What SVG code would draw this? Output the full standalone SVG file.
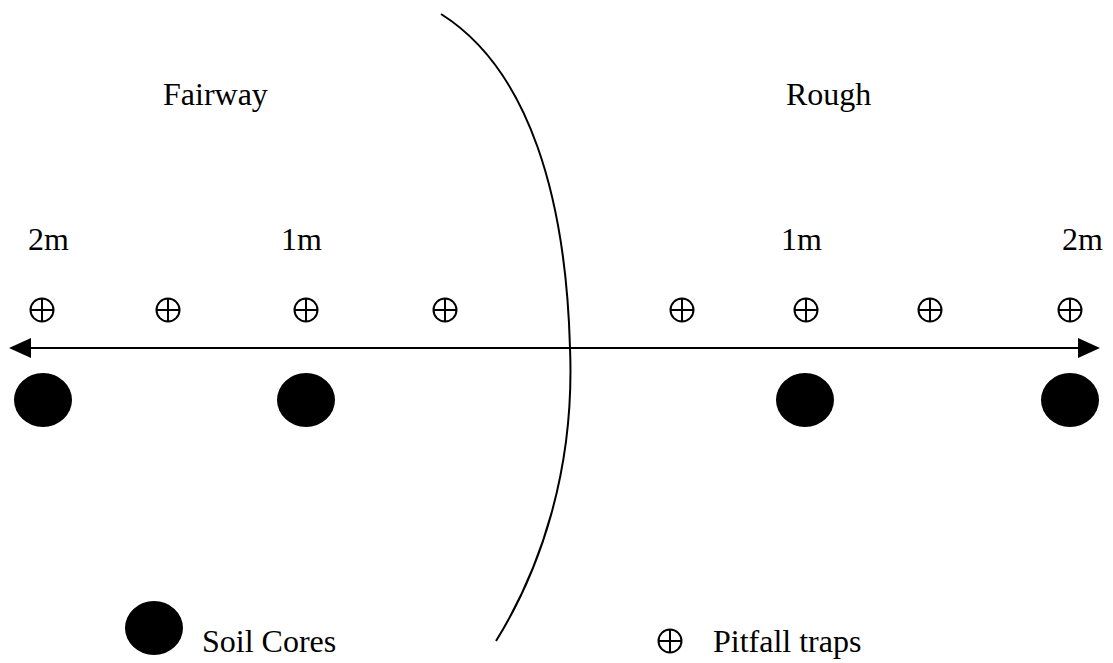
<svg xmlns="http://www.w3.org/2000/svg" width="1113" height="663" viewBox="0 0 1113 663">
<style>
text{font-family:"Liberation Serif","Times New Roman",serif;font-size:32px;fill:#000}
.core{fill:#000}
</style>
<defs>
<g id="trapSym" fill="none" stroke="#000" stroke-width="2"><circle cx="0" cy="0" r="11.5"/><path d="M-11.5,0H11.5M0,-11.5V11.5"/></g>
</defs>
<rect width="1113" height="663" fill="#fff"/>
<g id="boundary"><path d="M441,14 C530,70 566,200 570,348 C575,470 540,570 496,641" fill="none" stroke="#000" stroke-width="2"/></g>
<g id="connectors">
<line x1="28" y1="348" x2="1082" y2="348" stroke="#000" stroke-width="2"/>
<polygon points="9,348 31,338 31,358" fill="#000"/>
<polygon points="1100,348 1078,338 1078,358" fill="#000"/>
</g>
<g id="labels">
<text x="163" y="105">Fairway</text>
<text x="786" y="105">Rough</text>
<text x="28" y="250">2m</text>
<text x="281" y="250">1m</text>
<text x="781" y="250">1m</text>
<text x="1062" y="250">2m</text>
</g>
<g id="traps">
<use href="#trapSym" x="42" y="310"/>
<use href="#trapSym" x="168" y="310"/>
<use href="#trapSym" x="306" y="310"/>
<use href="#trapSym" x="445" y="310"/>
<use href="#trapSym" x="682" y="310"/>
<use href="#trapSym" x="806" y="310"/>
<use href="#trapSym" x="930" y="310"/>
<use href="#trapSym" x="1070" y="310"/>
</g>
<g id="cores">
<ellipse class="core" cx="43" cy="400" rx="29" ry="27"/>
<ellipse class="core" cx="306" cy="400" rx="29" ry="27"/>
<ellipse class="core" cx="805" cy="400" rx="29" ry="27"/>
<ellipse class="core" cx="1070" cy="400" rx="29" ry="27"/>
</g>
<g id="legend-cores">
<ellipse class="core" cx="154" cy="628" rx="29" ry="27"/>
<text x="202" y="652">Soil Cores</text>
</g>
<g id="legend-traps">
<use href="#trapSym" x="670" y="641"/>
<text x="713" y="652">Pitfall traps</text>
</g>
</svg>
